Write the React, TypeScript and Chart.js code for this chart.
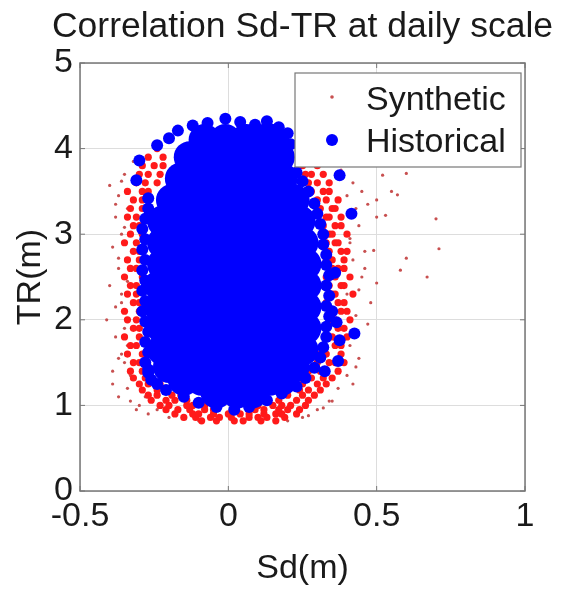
import React, { useEffect, useRef } from "react";
import { Chart, registerables } from "chart.js";

Chart.register(...registerables);

// ---------- axis ticks ----------
const xTickValues = [-0.5, 0, 0.5, 1];
const yTickValues = [0, 1, 2, 3, 4, 5];

// ---------- Historical (blue) : dense core, read row by row ----------
const histCoreRowY = [1.15, 1.3, 1.45, 1.65, 1.9, 2.15, 2.4, 2.65, 2.9, 3.15, 3.4, 3.65, 3.9, 4.1];
const histCoreRowX = [
  [-0.04, 0.03, 0.08],
  [-0.15, -0.09, -0.03, 0.03, 0.09, 0.14, 0.18],
  [-0.2, -0.13, -0.06, 0.01, 0.08, 0.15, 0.22],
  [-0.22, -0.15, -0.08, -0.01, 0.06, 0.13, 0.2, 0.25],
  [-0.22, -0.16, -0.09, -0.02, 0.05, 0.12, 0.19, 0.26],
  [-0.23, -0.16, -0.09, -0.02, 0.05, 0.12, 0.19, 0.26],
  [-0.23, -0.16, -0.09, -0.02, 0.05, 0.12, 0.19, 0.26],
  [-0.22, -0.15, -0.08, -0.01, 0.06, 0.13, 0.2, 0.26],
  [-0.22, -0.15, -0.08, -0.01, 0.06, 0.13, 0.2, 0.25],
  [-0.22, -0.15, -0.08, -0.01, 0.06, 0.13, 0.2, 0.24],
  [-0.19, -0.12, -0.05, 0.02, 0.09, 0.16, 0.22],
  [-0.16, -0.09, -0.02, 0.05, 0.12, 0.18],
  [-0.13, -0.06, 0.01, 0.08, 0.15, 0.17],
  [-0.08, -0.01, 0.06, 0.12, 0.15],
];

// ---------- Historical (blue) : outline points ----------
const histEdgeX = [
  -0.17, -0.12, -0.07, -0.01, 0.04, 0.09, 0.13, 0.17, 0.2, 0.21, -0.2,
  -0.24, -0.3, -0.31, -0.27, -0.27, -0.28, -0.29, -0.28, -0.29, -0.28, -0.29, -0.28, -0.29, -0.28,
  -0.29, -0.28, -0.27, -0.28, -0.27, -0.28, -0.27, -0.27, -0.26, -0.24, -0.21,
  -0.15, -0.1, -0.04, 0.02, 0.07, 0.13,
  0.18, 0.23, 0.26, 0.29, 0.31, 0.32, 0.33, 0.33, 0.34, 0.33, 0.34, 0.33, 0.34, 0.33, 0.33, 0.32,
  0.32, 0.31, 0.3, 0.29, 0.27, 0.25, 0.23,
  0.325, 0.37, 0.375, 0.425, 0.365, 0.35, 0.415, 0.375, 0.36,
];
const histEdgeY = [
  4.21, 4.27, 4.3, 4.35, 4.31, 4.28, 4.32, 4.25, 4.18, 4.05, 4.12,
  4.04, 3.86, 3.63, 3.42, 3.3, 3.18, 3.06, 2.94, 2.82, 2.7, 2.58, 2.46, 2.34, 2.22,
  2.1, 1.98, 1.86, 1.74, 1.62, 1.5, 1.42, 1.38, 1.3, 1.25, 1.18,
  1.1, 1.03, 0.98, 0.95, 0.98, 1.06,
  1.14, 1.22, 1.32, 1.44, 1.56, 1.68, 1.8, 1.92, 2.04, 2.16, 2.28, 2.4, 2.52, 2.64, 2.76, 2.88,
  3.0, 3.12, 3.24, 3.36, 3.5, 3.62, 3.72,
  1.4, 1.52, 1.76, 1.84, 1.97, 2.1, 3.24, 3.69, 2.55,
];

// ---------- Synthetic (red) : dense halo, read row by row ----------
const synRingRowY = [
  0.82, 0.86, 0.9, 0.95, 1.0, 1.06, 1.12, 1.18, 1.25, 1.32, 1.4, 1.5, 1.6, 1.7, 1.8, 1.9, 2.0,
  2.1, 2.2, 2.3, 2.4, 2.5, 2.6, 2.7, 2.8, 2.9, 3.0, 3.1, 3.2, 3.3, 3.4, 3.5, 3.6, 3.7, 3.8, 3.9, 4.0,
];
const synRingRowX = [
  [-0.09, -0.04, 0.02, 0.05, 0.11, 0.16],
  [-0.15, -0.11, -0.06, -0.03, 0.01, 0.07, 0.1, 0.13, 0.19],
  [-0.18, -0.12, -0.1, -0.05, 0.0, 0.04, 0.07, 0.12, 0.16, 0.18, 0.23],
  [-0.21, -0.17, -0.13, -0.08, -0.05, 0.09, 0.12, 0.17, 0.2, 0.24],
  [-0.23, -0.2, -0.14, -0.12, -0.08, 0.1, 0.15, 0.18, 0.21, 0.26],
  [-0.26, -0.21, -0.18, -0.14, 0.13, 0.17, 0.23, 0.27],
  [-0.27, -0.24, -0.19, -0.16, 0.18, 0.2, 0.25, 0.29],
  [-0.29, -0.24, -0.21, 0.2, 0.24, 0.27, 0.31],
  [-0.3, -0.27, -0.23, 0.22, 0.25, 0.3, 0.33],
  [-0.32, -0.28, 0.25, 0.28, 0.32, 0.35],
  [-0.33, -0.29, 0.27, 0.31, 0.33, 0.37],
  [-0.32, -0.3, 0.3, 0.34, 0.36, 0.39],
  [-0.34, -0.29, 0.31, 0.33, 0.38],
  [-0.33, -0.31, 0.32, 0.36, 0.38],
  [-0.35, -0.3, 0.34, 0.35, 0.4],
  [-0.32, -0.3, 0.33, 0.37, 0.39],
  [-0.34, -0.31, 0.34, 0.36, 0.41],
  [-0.35, -0.3, 0.35, 0.38, 0.4],
  [-0.32, -0.3, 0.33, 0.37, 0.39],
  [-0.34, -0.31, 0.35, 0.36, 0.42],
  [-0.33, -0.31, 0.34, 0.38, 0.39],
  [-0.35, -0.29, 0.33, 0.36, 0.41],
  [-0.33, -0.31, 0.35, 0.37, 0.39],
  [-0.34, -0.3, 0.33, 0.35, 0.39],
  [-0.32, -0.3, 0.34, 0.38, 0.4],
  [-0.35, -0.31, 0.33, 0.36, 0.37],
  [-0.33, -0.29, 0.34, 0.35, 0.4],
  [-0.32, -0.3, 0.32, 0.36, 0.38],
  [-0.34, -0.31, 0.33, 0.34, 0.38],
  [-0.33, -0.29, 0.31, 0.35, 0.36],
  [-0.32, -0.29, 0.3, 0.33, 0.37],
  [-0.34, -0.29, -0.27, 0.28, 0.32, 0.34],
  [-0.31, -0.28, -0.24, 0.27, 0.3, 0.34],
  [-0.3, -0.27, -0.23, 0.26, 0.28, 0.32],
  [-0.29, -0.25, -0.22, 0.25, 0.3],
  [-0.27, -0.22],
  [-0.24],
];

// ---------- Synthetic (red) : scattered outer points ----------
const synSparseX = [
  -0.4, -0.37, -0.38, -0.36, -0.39, -0.37, -0.4, -0.36, -0.41, -0.38, -0.36, -0.39, -0.34, -0.3, -0.27,
  -0.35, -0.34, -0.35, -0.34, -0.35, -0.34, -0.33, -0.28, -0.24, -0.2, -0.35, -0.37, -0.32, -0.15, -0.1,
  -0.36, -0.38, -0.35, -0.37, -0.36, -0.38, -0.35, -0.37, -0.39, -0.33, -0.31,
  0.38, 0.42, 0.45, 0.4, 0.44, 0.41, 0.46, 0.42, 0.45, 0.4, 0.48, 0.43, 0.41, 0.44, 0.4, 0.37, 0.34, 0.3, 0.27,
  0.47, 0.39, 0.5, 0.47, 0.5, 0.49, 0.5, 0.52, 0.53, 0.43, 0.42, 0.44, 0.41, 0.43, 0.46, 0.42,
  0.57, 0.6, 0.7, 0.71, 0.67, 0.6, 0.58, 0.55, 0.2, 0.25, 0.35, 0.32,
];
const synSparseY = [
  3.57, 3.45, 3.2, 3.0, 2.85, 2.6, 2.4, 2.2, 2.0, 1.8, 1.6, 1.4, 1.2, 1.0, 0.9,
  3.7, 3.3, 2.9, 2.45, 2.1, 1.7, 1.35, 1.1, 0.95, 0.86, 1.5, 1.1, 3.85, 0.84, 0.82,
  3.62, 3.35, 3.08, 2.72, 2.3, 2.15, 1.9, 1.55, 1.25, 1.05, 0.95,
  3.75, 3.6, 3.5, 3.45, 3.1, 2.95, 2.8, 2.7, 2.5, 2.3, 2.2, 2.05, 1.7, 1.55, 1.35, 1.2, 1.05, 0.95, 0.88,
  1.95, 2.6, 3.2, 3.35, 3.4, 2.81, 2.43, 3.69, 3.22, 1.45, 1.85, 2.35, 2.9, 3.3, 2.6, 1.25,
  3.46, 3.71, 3.18, 2.83, 2.5, 2.72, 2.58, 3.5, 0.82, 0.86, 1.05, 0.97,
];

const zip = (xs: number[], ys: number[]) => xs.map((x, i) => ({ x, y: ys[i] }));
const rows = (ys: number[], xs: number[][]) => ys.flatMap((y, r) => xs[r].map((x) => ({ x, y })));

const FONT = "'Liberation Sans', Arial, Helvetica, sans-serif";
const BLUE = "#0000ff";
const RED = "#ff1a1a";
const RED_SPARSE = "#c85050";
const FRAME = "#777777";

const decorPlugin = {
  id: "decor",
  afterDatasetsDraw(chart: any) {
    const { ctx, chartArea: a, scales } = chart;
    const xs = scales.x;
    const ys = scales.y;
    ctx.save();
    ctx.strokeStyle = FRAME;
    ctx.lineWidth = 1.5;
    ctx.strokeRect(a.left, a.top, a.right - a.left, a.bottom - a.top);
    ctx.lineWidth = 1;
    xTickValues.forEach((v) => {
      const px = xs.getPixelForValue(v);
      ctx.beginPath();
      ctx.moveTo(px, a.bottom);
      ctx.lineTo(px, a.bottom - 5);
      ctx.moveTo(px, a.top);
      ctx.lineTo(px, a.top + 5);
      ctx.stroke();
    });
    yTickValues.forEach((v) => {
      const py = ys.getPixelForValue(v);
      ctx.beginPath();
      ctx.moveTo(a.left, py);
      ctx.lineTo(a.left + 5, py);
      ctx.moveTo(a.right, py);
      ctx.lineTo(a.right - 5, py);
      ctx.stroke();
    });
    // legend box
    const lx = 295, ly = 73, lw = 226, lh = 94;
    ctx.fillStyle = "#ffffff";
    ctx.fillRect(lx, ly, lw, lh);
    ctx.strokeStyle = FRAME;
    ctx.lineWidth = 1.2;
    ctx.strokeRect(lx, ly, lw, lh);
    ctx.fillStyle = RED_SPARSE;
    ctx.beginPath();
    ctx.arc(332, 97, 1.8, 0, Math.PI * 2);
    ctx.fill();
    ctx.fillStyle = BLUE;
    ctx.beginPath();
    ctx.arc(332, 140, 6, 0, Math.PI * 2);
    ctx.fill();
    ctx.fillStyle = "#1a1a1a";
    ctx.font = `34px ${FONT}`;
    ctx.textAlign = "left";
    ctx.textBaseline = "alphabetic";
    ctx.fillText("Synthetic", 366, 110);
    ctx.fillText("Historical", 366, 152);
    // title
    const cx = (a.left + a.right) / 2;
    ctx.textAlign = "center";
    ctx.font = `35.5px ${FONT}`;
    ctx.fillText("Correlation Sd-TR at daily scale", cx, 37);
    // x label
    ctx.font = `34px ${FONT}`;
    ctx.fillText("Sd(m)", cx, 578);
    // y label
    ctx.save();
    ctx.translate(40, (a.top + a.bottom) / 2);
    ctx.rotate(-Math.PI / 2);
    ctx.fillText("TR(m)", 0, 0);
    ctx.restore();
    ctx.restore();
  },
};

export default function App() {
  const ref = useRef<HTMLCanvasElement | null>(null);
  useEffect(() => {
    if (!ref.current) return;
    const chart = new Chart(ref.current, {
      type: "scatter",
      data: {
        datasets: [
          {
            label: "Historical edge",
            data: zip(histEdgeX, histEdgeY),
            pointRadius: 6,
            pointBackgroundColor: BLUE,
            pointBorderWidth: 0,
            order: 0,
          },
          {
            label: "Historical",
            data: rows(histCoreRowY, histCoreRowX),
            pointRadius: 16,
            pointBackgroundColor: BLUE,
            pointBorderWidth: 0,
            order: 1,
          },
          {
            label: "Synthetic",
            data: rows(synRingRowY, synRingRowX),
            pointRadius: 3.6,
            pointBackgroundColor: RED,
            pointBorderWidth: 0,
            order: 2,
          },
          {
            label: "Synthetic sparse",
            data: zip(synSparseX, synSparseY),
            pointRadius: 1.6,
            pointBackgroundColor: RED_SPARSE,
            pointBorderWidth: 0,
            order: 3,
          },
        ],
      },
      options: {
        animation: false,
        responsive: false,
        events: [],
        layout: { padding: { top: 63, right: 46, left: 0, bottom: 0 } },
        plugins: { legend: { display: false }, tooltip: { enabled: false }, title: { display: false } },
        scales: {
          x: {
            type: "linear",
            min: -0.5,
            max: 1,
            afterBuildTicks: (s: any) => {
              s.ticks = xTickValues.map((v) => ({ value: v }));
            },
            afterFit: (s: any) => {
              s.height = 104;
            },
            grid: { color: "#dddddd", lineWidth: 1, drawTicks: false },
            border: { display: false },
            ticks: {
              font: { family: FONT, size: 34 },
              color: "#1a1a1a",
              padding: 5,
              maxRotation: 0,
              autoSkip: false,
              callback: (v: any) => String(v),
            },
          },
          y: {
            type: "linear",
            min: 0,
            max: 5,
            afterBuildTicks: (s: any) => {
              s.ticks = yTickValues.map((v) => ({ value: v }));
            },
            afterFit: (s: any) => {
              s.width = 80;
            },
            grid: { color: "#dddddd", lineWidth: 1, drawTicks: false },
            border: { display: false },
            ticks: {
              font: { family: FONT, size: 34 },
              color: "#1a1a1a",
              padding: 7,
              autoSkip: false,
              callback: (v: any) => String(v),
            },
          },
        },
      },
      plugins: [decorPlugin],
    });
    return () => chart.destroy();
  }, []);
  return (
    <div style={{ position: "fixed", left: 0, top: 0, width: 571, height: 595, background: "#fff" }}>
      <canvas ref={ref} width={571} height={595} />
    </div>
  );
}
